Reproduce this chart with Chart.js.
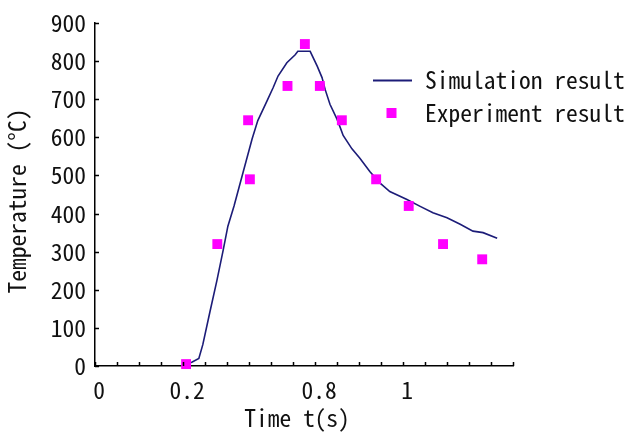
<!DOCTYPE html>
<html>
<head>
<meta charset="utf-8">
<script src="https://cdn.jsdelivr.net/npm/chart.js@4/dist/chart.umd.min.js"></script>
<style>
  html, body { margin: 0; padding: 0; background: #ffffff; }
  #wrap { width: 628px; height: 435px; }
</style>
</head>
<body>
<div id="wrap"><canvas id="c" width="628" height="435"></canvas></div>
<script>
// ---- data (x in axis units: 0.05 per minor tick, as the first labels imply) ----
const xTickLabels = ['0', '', '', '', '0.2', '', '', '', '', '', '0.8', '', '', '', '1', '', '', '', '', ''];
const yTickValues = [0, 100, 200, 300, 400, 500, 600, 700, 800, 900];

const simTime = [0.209, 0.220, 0.236, 0.245, 0.261, 0.277, 0.291, 0.302, 0.316, 0.336, 0.357, 0.370, 0.391,
                 0.405, 0.416, 0.436, 0.455, 0.461, 0.489, 0.505, 0.516, 0.523, 0.534, 0.550, 0.557, 0.564,
                 0.584, 0.602, 0.625, 0.648, 0.670, 0.709, 0.739, 0.768, 0.800, 0.830, 0.859, 0.882, 0.914];
const simTemp = [6, 10, 20, 56, 141, 224, 302, 367, 420, 506, 596, 644, 696,
                 731, 761, 796, 817, 826, 826, 787, 757, 726, 687, 648, 627, 605,
                 570, 545, 510, 480, 458, 437, 419, 402, 389, 372, 354, 350, 335];

const expTime = [0.207, 0.278, 0.348, 0.352, 0.4375, 0.477, 0.511, 0.561, 0.639, 0.713, 0.791, 0.880];
const expTemp = [5, 320, 645, 490, 735, 845, 735, 645, 490, 420, 320, 280];

const seriesNames = ['Simulation result', 'Experiment result'];
const xTitle = 'Time t(s)';
const yTitle = 'Temperature (°C)';

// ---- style ----
const FONT_FAMILY = "'Noto Sans Mono CJK SC', 'Liberation Mono', monospace";
const FONT_SIZE = 23.5;
const TEXT_COLOR = '#111111';
const LINE_COLOR = '#1c1c78';
const POINT_COLOR = '#ff00ff';

const tickFont = { family: FONT_FAMILY, size: FONT_SIZE };

const decorations = {
  id: 'decorations',
  afterDraw(chart) {
    const ctx = chart.ctx;
    const xs = chart.scales.x, ys = chart.scales.y;
    const area = chart.chartArea;
    ctx.save();
    // inward tick marks
    ctx.strokeStyle = '#000';
    ctx.lineWidth = 1.5;
    ctx.beginPath();
    xs.ticks.forEach(t => {
      const px = Math.round(xs.getPixelForValue(t.value)) + 0.5;
      ctx.moveTo(px, area.bottom);
      ctx.lineTo(px, area.bottom - 4);
    });
    ys.ticks.forEach(t => {
      const py = Math.round(ys.getPixelForValue(t.value)) + 0.5;
      ctx.moveTo(area.left, py);
      ctx.lineTo(area.left + 4, py);
    });
    ctx.stroke();

    // axis titles
    ctx.fillStyle = TEXT_COLOR;
    ctx.font = FONT_SIZE + 'px ' + FONT_FAMILY;
    ctx.textAlign = 'center';
    ctx.textBaseline = 'middle';
    ctx.fillText(xTitle, 297, 418);
    ctx.save();
    ctx.translate(17, 201);
    ctx.rotate(-Math.PI / 2);
    ctx.fillText(yTitle, 0, 0);
    ctx.restore();

    // legend
    const ds = chart.data.datasets;
    ctx.strokeStyle = ds[0].borderColor;
    ctx.lineWidth = 1.8;
    ctx.beginPath();
    ctx.moveTo(373, 80.5);
    ctx.lineTo(412, 80.5);
    ctx.stroke();
    ctx.fillStyle = ds[1].backgroundColor;
    ctx.fillRect(386.5, 108, 10, 10);
    ctx.fillStyle = TEXT_COLOR;
    ctx.textAlign = 'left';
    ctx.fillText(ds[0].label, 425, 80);
    ctx.fillText(ds[1].label, 425, 113);
    ctx.restore();
  }
};

new Chart(document.getElementById('c'), {
  type: 'scatter',
  data: {
    datasets: [
      {
        label: seriesNames[0],
        data: simTime.map((t, i) => ({ x: t, y: simTemp[i] })),
        showLine: true,
        borderColor: LINE_COLOR,
        borderWidth: 1.6,
        pointRadius: 0,
        tension: 0,
        order: 1
      },
      {
        label: seriesNames[1],
        data: expTime.map((t, i) => ({ x: t, y: expTemp[i] })),
        showLine: false,
        pointStyle: 'rect',
        pointRadius: 7,
        backgroundColor: POINT_COLOR,
        borderColor: POINT_COLOR,
        borderWidth: 0,
        clip: false,
        order: 0
      }
    ]
  },
  options: {
    responsive: false,
    animation: false,
    devicePixelRatio: 1,
    layout: { padding: { left: 0, top: 19, right: 115, bottom: 0 } },
    plugins: { legend: { display: false }, tooltip: { enabled: false } },
    scales: {
      x: {
        type: 'linear',
        min: 0,
        max: (xTickLabels.length - 1) * 0.05,
        grid: { display: false, drawTicks: false },
        border: { display: true, color: '#000', width: 1.5 },
        afterBuildTicks: s => { s.ticks = xTickLabels.map((_, i) => ({ value: i * 0.05 })); },
        afterFit: s => { s.height = 69; },
        ticks: {
          autoSkip: false,
          maxRotation: 0,
          padding: 10,
          labelOffset: 4,
          color: TEXT_COLOR,
          font: tickFont,
          callback: (v, i) => xTickLabels[i]
        }
      },
      y: {
        type: 'linear',
        min: yTickValues[0],
        max: yTickValues[yTickValues.length - 1],
        grid: { display: false, drawTicks: false },
        border: { display: true, color: '#000', width: 1.5 },
        afterBuildTicks: s => { s.ticks = yTickValues.map(v => ({ value: v })); },
        afterFit: s => { s.width = 95; },
        ticks: {
          padding: 9,
          color: TEXT_COLOR,
          font: tickFont,
          callback: v => String(v)
        }
      }
    }
  },
  plugins: [decorations]
});
</script>
</body>
</html>
